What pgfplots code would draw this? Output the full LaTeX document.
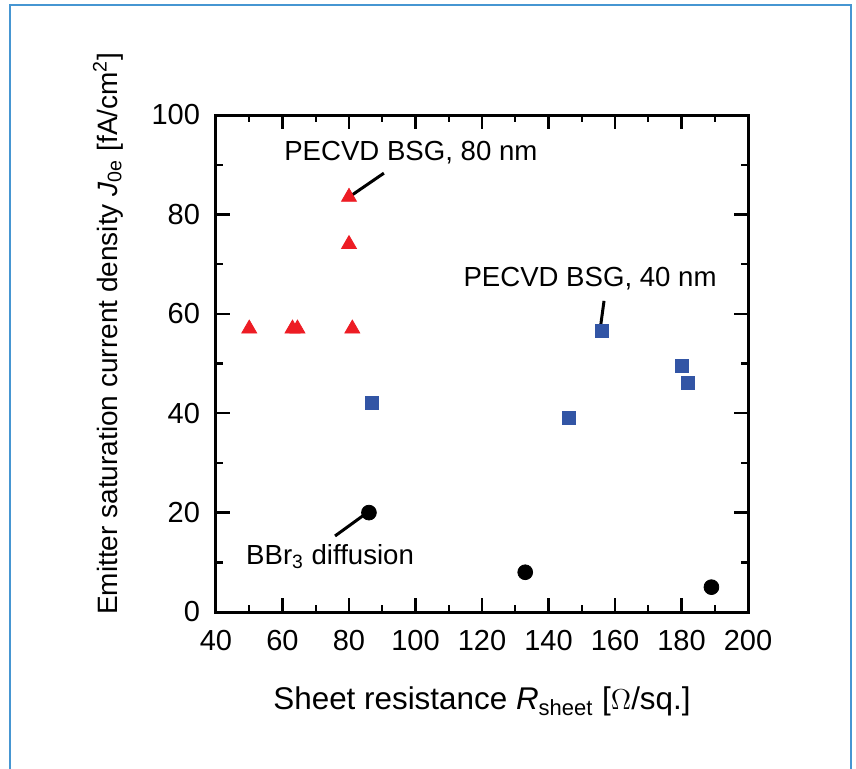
\documentclass[border=0pt]{standalone}
\usepackage{pgfplots}
\pgfplotsset{compat=1.18}
\usepackage{fontspec}
\setmainfont{Liberation Sans}
\definecolor{frameblue}{RGB}{70,150,210}
\definecolor{trired}{RGB}{237,28,36}
\definecolor{sqblue}{RGB}{50,85,165}

\begin{document}
\begin{tikzpicture}
\useasboundingbox (-108pt,-78pt) rectangle (320pt,306pt);
% outer frame of the figure
\draw[frameblue, line width=0.8pt] (-103pt,-95pt) -- (-103pt,303.5pt) -- (317.5pt,303.5pt) -- (317.5pt,-95pt);
\begin{axis}[
  scale only axis,
  width=266pt, height=248.5pt,
  xmin=40, xmax=200, ymin=0, ymax=100,
  xtick={40,60,...,200}, ytick={0,20,...,100},
  minor x tick num=1, minor y tick num=1,
  tick align=inside,
  major tick length=7pt, minor tick length=3.5pt,
  axis line style={line width=1.5pt},
  every tick/.style={black, line width=1.2pt},
  ticklabel style={font=\fontsize{14.5}{16}\selectfont},
  xticklabel style={yshift=-5.5pt},
  yticklabel style={xshift=-4.5pt},
  /pgf/number format/assume math mode=true,
  xlabel style={font=\fontsize{15.7}{18}\selectfont, at={(axis description cs:0.5,-0.18)}, anchor=center},
  ylabel style={font=\fontsize{14}{16}\selectfont, at={(axis description cs:-0.203,0.56)}, anchor=center},
  xlabel={Sheet resistance \textit{R}\textsubscript{sheet} [$\Omega$/sq.]},
  ylabel={Emitter saturation current density \textit{J}\textsubscript{0e} [fA/cm\textsuperscript{2}]},
]
% PECVD BSG, 80 nm
\addplot[only marks, mark=triangle*, mark size=4.3pt, color=trired] coordinates {
  (50,57) (63,57) (64.5,57) (80,83.5) (80,74) (81,57)
};
% PECVD BSG, 40 nm
\addplot[only marks, mark=square*, mark size=3.25pt, color=sqblue] coordinates {
  (87,42) (146,39) (156,56.5) (180,49.5) (182,46)
};
% BBr3 diffusion
\addplot[only marks, mark=*, mark size=3.7pt, color=black] coordinates {
  (86,20) (133,8) (189,5)
};
\draw[line width=1.5pt] (axis cs:90.5,88.3) -- (axis cs:80.9,83.9);
\node[font=\fontsize{13.8}{16}\selectfont] at (axis cs:98.6,92.4) {PECVD BSG, 80 nm};
\draw[line width=1.5pt] (axis cs:156.7,62.6) -- (axis cs:155.5,56.7);
\node[font=\fontsize{13.8}{16}\selectfont] at (axis cs:152.5,67) {PECVD BSG, 40 nm};
\draw[line width=1.5pt] (axis cs:75.8,15.3) -- (axis cs:85.7,20.1);
\node[font=\fontsize{13.8}{16}\selectfont] at (axis cs:74.3,11.1) {BBr\textsubscript{3} diffusion};
\end{axis}
\end{tikzpicture}
\end{document}
